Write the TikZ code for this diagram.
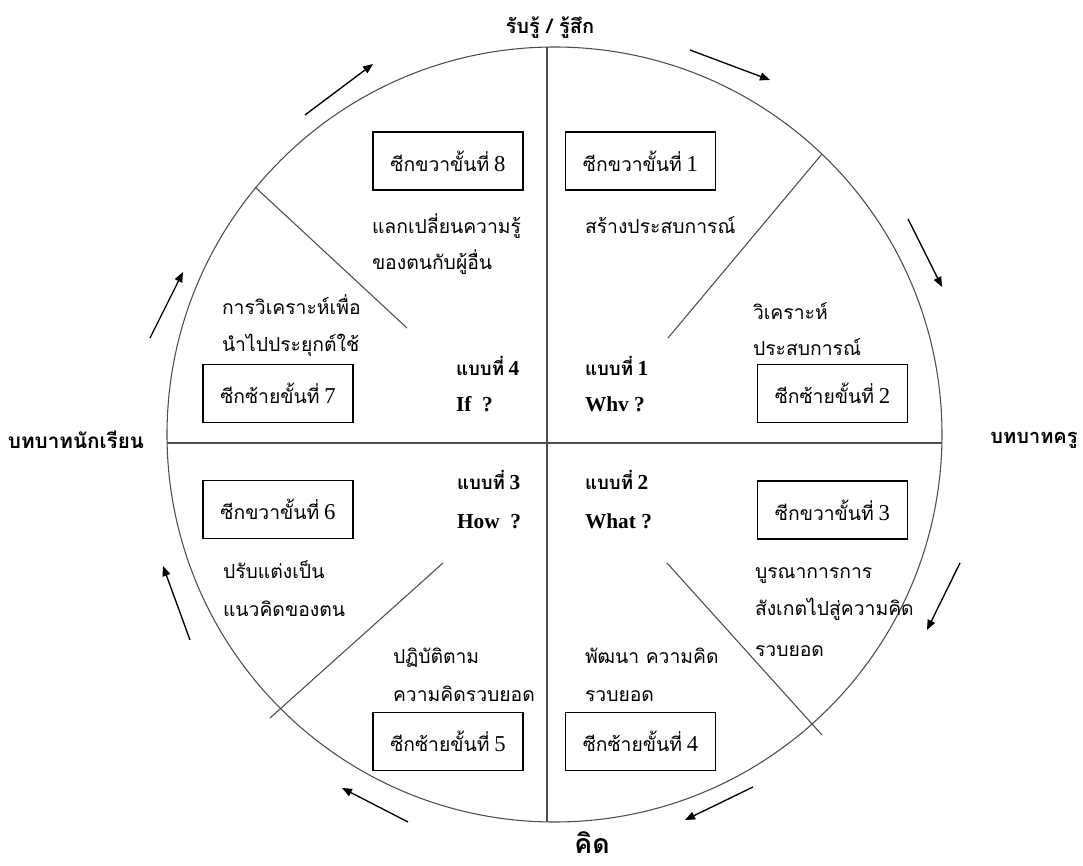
\documentclass[tikz,border=0pt]{standalone}
\usepackage{fontspec}
\setmainfont{Liberation Serif}
\newfontfamily\thf[Script=Thai]{Loma}
\usetikzlibrary{arrows.meta}
\newcommand\rsz{\fontsize{14.5}{16}\selectfont}
\newcommand\bsz{\fontsize{14}{16}\selectfont\bfseries}
\newcommand\dg[1]{{\fontsize{17}{18}\selectfont #1}}
\newcommand\lt[1]{{\fontsize{16}{18}\selectfont #1}}
\begin{document}
\begin{tikzpicture}[x=0.75pt,y=-0.75pt,
  every node/.style={inner sep=0pt, outer sep=0pt},
  ln/.style={draw=black!70, line width=0.8pt},
  bx/.style={draw=black, line width=1.2pt, minimum width=112.5pt, minimum height=43.5pt, font=\rsz},
  ds/.style={anchor=base west, font=\rsz\thf},
  md/.style={anchor=base west, font=\bsz},
  lab/.style={font=\fontsize{15}{17}\selectfont\bfseries\thf},
  arr/.style={draw=black, line width=1pt, -{Triangle[length=7.5pt,width=6pt]}},
]
\useasboundingbox (0,0) rectangle (1083,866);
% circle
\node[circle, ln, minimum size=581.25pt] (C) at (554.5,434.5) {};
% axes
\coordinate (vt) at (547,47);  \coordinate (vb) at (547,822);
\coordinate (hl) at (167,443); \coordinate (hr) at (942,443);
\draw[ln] (vt) -- (vb);
\draw[ln] (hl) -- (hr);
% diagonals
\coordinate (d1a) at (668,338); \coordinate (d1b) at (822,154);
\coordinate (d8a) at (407,328); \coordinate (d8b) at (255,187);
\coordinate (d6a) at (443,563); \coordinate (d6b) at (270,718);
\coordinate (d3a) at (667,563); \coordinate (d3b) at (822,735);
\draw[ln] (d1a) -- (d1b);
\draw[ln] (d8a) -- (d8b);
\draw[ln] (d6a) -- (d6b);
\draw[ln] (d3a) -- (d3b);
% arrows around the circle
\coordinate (a1s) at (305,115); \coordinate (a1e) at (373,64);
\coordinate (a2s) at (690,50);  \coordinate (a2e) at (770,80);
\coordinate (a3s) at (908,219); \coordinate (a3e) at (942,287);
\coordinate (a4s) at (960,563); \coordinate (a4e) at (927,630);
\coordinate (a5s) at (753,787); \coordinate (a5e) at (685,820);
\coordinate (a6s) at (408,822); \coordinate (a6e) at (342,788);
\coordinate (a7s) at (190,640); \coordinate (a7e) at (163,566);
\coordinate (a8s) at (150,338); \coordinate (a8e) at (183,272);
\draw[arr] (a1s) -- (a1e);
\draw[arr] (a2s) -- (a2e);
\draw[arr] (a3s) -- (a3e);
\draw[arr] (a4s) -- (a4e);
\draw[arr] (a5s) -- (a5e);
\draw[arr] (a6s) -- (a6e);
\draw[arr] (a7s) -- (a7e);
\draw[arr] (a8s) -- (a8e);
% outer labels
\node[lab] (top) at (550,28) {รับรู้ / รู้สึก};
\node[font=\fontsize{20}{22}\selectfont\bfseries\thf, anchor=base] (kid) at (592,853) {คิด};
\node[lab, font=\fontsize{15.5}{17}\selectfont\bfseries\thf] (stu) at (76,440) {บทบาทนักเรียน};
\node[lab] (tea) at (1034,440) {บทบาทครู};
% boxes
\node[bx] (b8) at (448,161) {{\thf ซีกขวาขั้นที่} \dg{8}};
\node[bx] (b1) at (640.5,161) {{\thf ซีกขวาขั้นที่} \dg{1}};
\node[bx] (b7) at (278,393.5) {{\thf ซีกซ้ายขั้นที่} \dg{7}};
\node[bx] (b2) at (832.5,393.5) {{\thf ซีกซ้ายขั้นที่} \dg{2}};
\node[bx] (b6) at (278,509.5) {{\thf ซีกขวาขั้นที่} \dg{6}};
\node[bx] (b3) at (832.5,510) {{\thf ซีกขวาขั้นที่} \dg{3}};
\node[bx] (b5) at (448,741.5) {{\thf ซีกซ้ายขั้นที่} \dg{5}};
\node[bx] (b4) at (640.5,741.5) {{\thf ซีกซ้ายขั้นที่} \dg{4}};
% descriptions
\node[ds] (t8a) at (372,234) {แลกเปลี่ยนความรู้};
\node[ds] (t8b) at (372,270) {ของตนกับผู้อื่น};
\node[ds] (t1a) at (585,234) {สร้างประสบการณ์};
\node[ds] (t7a) at (222,315) {การวิเคราะห์เพื่อ};
\node[ds] (t7b) at (222,352) {นำไปประยุกต์ใช้};
\node[ds] (t2a) at (753,320) {วิเคราะห์};
\node[ds] (t2b) at (753,356) {ประสบการณ์};
\node[ds] (t6a) at (223,578) {ปรับแต่งเป็น};
\node[ds] (t6b) at (223,616) {แนวคิดของตน};
\node[ds] (t3a) at (755,578) {บูรณาการการ};
\node[ds] (t3b) at (755,615) {สังเกตไปสู่ความคิด};
\node[ds] (t3c) at (755,656) {รวบยอด};
\node[ds] (t5a) at (393,663) {ปฏิบัติตาม};
\node[ds] (t5b) at (393,701) {ความคิดรวบยอด};
\node[ds] (t4a) at (585,663) {พัฒนา ความคิด};
\node[ds] (t4b) at (585,701) {รวบยอด};
% modes
\node[md] (m4) at (456,376) {{\thf แบบที่} \lt{4}};
\node[md] (q4) at (456,412) {\lt{If\ \ ?}};
\node[md] (m1) at (585,376) {{\thf แบบที่} \lt{1}};
\node[md] (q1) at (585,412) {\lt{Whv ?}};
\node[md] (m3) at (457,490) {{\thf แบบที่} \lt{3}};
\node[md] (q3) at (457,528) {\lt{How\ \ ?}};
\node[md] (m2) at (585,490) {{\thf แบบที่} \lt{2}};
\node[md] (q2) at (585,528) {\lt{What ?}};
\end{tikzpicture}
\end{document}
